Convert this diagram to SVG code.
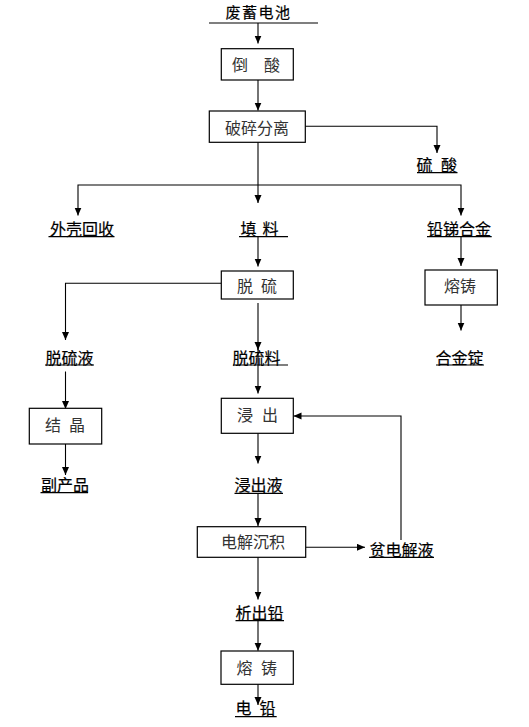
<svg xmlns="http://www.w3.org/2000/svg" width="529" height="727" viewBox="0 0 529 727">
<style>
  .box { fill: #fff; stroke: #000; stroke-width: 1.2; }
  .bt { font-family: "Noto Sans CJK SC", "Liberation Sans", sans-serif; font-size: 16px; fill: #333; }
  .lt { font-family: "Noto Sans CJK SC", "Liberation Sans", sans-serif; font-size: 16px; fill: #000; stroke: #000; stroke-width: 0.2; }
  .ul { stroke: #000; stroke-width: 1.2; }
  .c { fill: none; stroke: #000; stroke-width: 1.1; }
</style>
<defs>
  <marker id="ah" markerUnits="userSpaceOnUse" markerWidth="9" markerHeight="8" refX="8" refY="3.5" orient="auto">
    <path d="M0,0 L8,3.5 L0,7 z" fill="#000"/>
  </marker>
</defs>
<rect width="529" height="727" fill="#fff"/>

<g id="connectors">
  <path class="c" d="M258,23 V43.5" marker-end="url(#ah)"/>
  <path class="c" d="M258,80 V110.5" marker-end="url(#ah)"/>
  <path class="c" d="M305,126.3 H437 V153" marker-end="url(#ah)"/>
  <path class="c" d="M258,142 V203" marker-end="url(#ah)"/>
  <path class="c" d="M258,185 H78 V215.5" marker-end="url(#ah)"/>
  <path class="c" d="M258,185 H461 V215.5" marker-end="url(#ah)"/>
  <path class="c" d="M258,237 V266.5" marker-end="url(#ah)"/>
  <path class="c" d="M221,283.3 H65.5 V340" marker-end="url(#ah)"/>
  <path class="c" d="M258,303 V350" marker-end="url(#ah)"/>
  <path class="c" d="M258,346 V393.5" marker-end="url(#ah)"/>
  <path class="c" d="M65.5,371.5 V409" marker-end="url(#ah)"/>
  <path class="c" d="M65.5,444 V475" marker-end="url(#ah)"/>
  <path class="c" d="M461,237 V266" marker-end="url(#ah)"/>
  <path class="c" d="M461,305 V330.5" marker-end="url(#ah)"/>
  <path class="c" d="M258,433 V463.5" marker-end="url(#ah)"/>
  <path class="c" d="M258,493 V526" marker-end="url(#ah)"/>
  <path class="c" d="M305.5,547.3 H365" marker-end="url(#ah)"/>
  <path class="c" d="M401,540 V416 H293.5" marker-end="url(#ah)"/>
  <path class="c" d="M258,557 V599.5" marker-end="url(#ah)"/>
  <path class="c" d="M258,621 V650.7" marker-end="url(#ah)"/>
  <path class="c" d="M258,684 V705" marker-end="url(#ah)"/>
</g>

<g id="n-feixudianchi">
  <text class="lt" x="225.5" y="17.5" style="font-size:15px;letter-spacing:1.5px">废蓄电池</text>
  <line class="ul" x1="209" y1="23" x2="318" y2="23"/>
</g>
<g id="n-daosuan">
  <rect class="box" x="221.3" y="48.7" width="72" height="31.3"/>
  <text class="bt" x="232 248 264" y="70.5">倒 酸</text>
</g>
<g id="n-posuifenli">
  <rect class="box" x="209.3" y="111" width="96" height="31.3"/>
  <text class="bt" x="225" y="134">破碎分离</text>
</g>
<g id="n-liusuan">
  <text class="lt" x="416.5 432.5 441" y="170.5">硫 酸</text>
  <line class="ul" x1="417" y1="172.7" x2="457.5" y2="172.7"/>
</g>
<g id="n-waikehuishou">
  <text class="lt" x="50" y="234.5">外壳回收</text>
  <line class="ul" x1="48.5" y1="236.7" x2="114.5" y2="236.7"/>
</g>
<g id="n-tianliao">
  <text class="lt" x="240.5 256 262.5" y="234.5">填 料</text>
  <line class="ul" x1="239" y1="236.7" x2="288" y2="236.7"/>
</g>
<g id="n-qiantihejin">
  <text class="lt" x="427" y="234.5">铅锑合金</text>
  <line class="ul" x1="427" y1="236.7" x2="491.7" y2="236.7"/>
</g>
<g id="n-tuoliu">
  <rect class="box" x="221.3" y="271" width="72" height="28"/>
  <text class="bt" x="237 253 261" y="292">脱 硫</text>
</g>
<g id="n-rongzhu-right">
  <rect class="box" x="425" y="270" width="72.3" height="35"/>
  <text class="bt" x="444" y="292">熔铸</text>
</g>
<g id="n-tuoliuye">
  <text class="lt" x="45.5" y="363.5">脱硫液</text>
  <line class="ul" x1="45" y1="365" x2="94" y2="365"/>
</g>
<g id="n-tuoliuliao">
  <text class="lt" x="232.5" y="363.5">脱硫料</text>
  <line class="ul" x1="233" y1="365" x2="288" y2="365"/>
</g>
<g id="n-hejinding">
  <text class="lt" x="435.5" y="363.5">合金锭</text>
  <line class="ul" x1="436" y1="365" x2="484" y2="365"/>
</g>
<g id="n-jiejing">
  <rect class="box" x="29.3" y="408.3" width="72.4" height="35.7"/>
  <text class="bt" x="45 61 69" y="430.5">结 晶</text>
</g>
<g id="n-jinchu">
  <rect class="box" x="221.3" y="398.3" width="72" height="35"/>
  <text class="bt" x="237 253 262" y="420.5">浸 出</text>
</g>
<g id="n-fuchanpin">
  <text class="lt" x="41" y="491">副产品</text>
  <line class="ul" x1="40.5" y1="492.7" x2="88" y2="492.7"/>
</g>
<g id="n-jinchuye">
  <text class="lt" x="234.5" y="491">浸出液</text>
  <line class="ul" x1="234.5" y1="493.3" x2="283" y2="493.3"/>
</g>
<g id="n-dianjiechenji">
  <rect class="box" x="197.3" y="526.7" width="108.4" height="30.6"/>
  <text class="bt" x="221" y="548">电解沉积</text>
</g>
<g id="n-pindianjieye">
  <text class="lt" x="369.5" y="555.5">贫电解液</text>
  <line class="ul" x1="369" y1="557.3" x2="434" y2="557.3"/>
</g>
<g id="n-xichuqian">
  <text class="lt" x="235.5" y="619">析出铅</text>
  <line class="ul" x1="235.5" y1="620.7" x2="284" y2="620.7"/>
</g>
<g id="n-rongzhu-bottom">
  <rect class="box" x="221" y="651" width="72.3" height="33.3"/>
  <text class="bt" x="236.5 252.5 261" y="674">熔 铸</text>
</g>
<g id="n-dianqian">
  <text class="lt" x="235.5 251.5 259.5" y="714">电 铅</text>
  <line class="ul" x1="235" y1="716.7" x2="276.7" y2="716.7"/>
</g>
</svg>
